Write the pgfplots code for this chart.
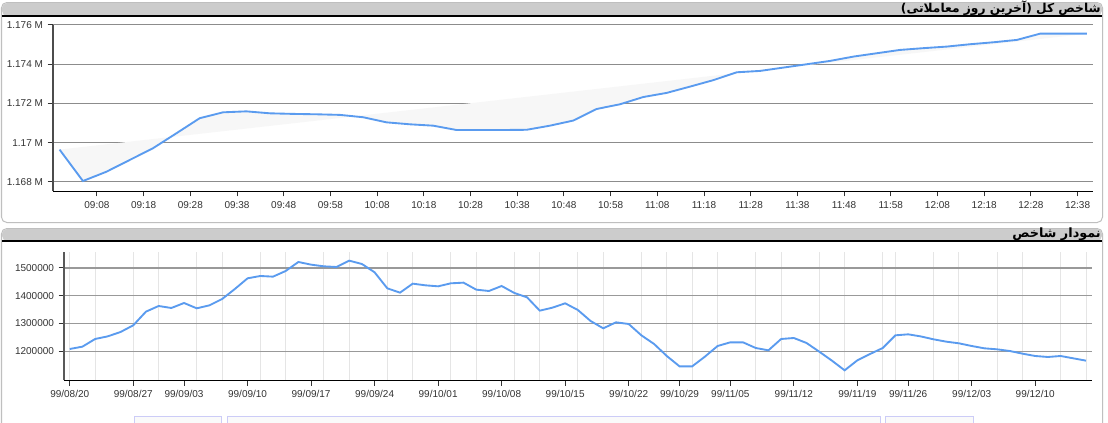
\documentclass[border=0pt]{standalone}
\usepackage{fontspec}
\setmainfont{Liberation Sans}
\newfontfamily\arabicfont[Script=Arabic]{DejaVu Sans}
\TeXXeTstate=1
\usepackage{pgfplots}
\usepackage{pgfplotstable}
\pgfplotsset{compat=1.18}
\definecolor{linecol}{HTML}{5A9BEF}

% intraday index, minutes after 09:00
\pgfplotstableread{
t v
0 1169650
5 1168050
10 1168520
15 1169120
20 1169720
25 1170480
30 1171250
35 1171550
40 1171600
45 1171500
50 1171470
55 1171450
60 1171420
65 1171300
70 1171040
75 1170940
80 1170870
85 1170650
90 1170650
95 1170650
100 1170660
105 1170870
110 1171130
115 1171720
120 1171960
125 1172330
130 1172540
135 1172860
140 1173190
145 1173590
150 1173660
155 1173830
160 1174000
165 1174170
170 1174390
175 1174560
180 1174730
185 1174820
190 1174900
195 1175020
200 1175120
205 1175240
210 1175560
215 1175560
220 1175560
}\intraday

% daily index, trading day number
\pgfplotstableread{
i v
0 1208400
1 1216800
2 1244400
3 1254000
4 1269600
5 1293600
6 1342800
7 1363200
8 1356000
9 1374000
10 1354800
11 1365600
12 1388400
13 1424400
14 1462800
15 1471200
16 1468800
17 1489200
18 1521600
19 1512000
20 1506000
21 1503600
22 1526400
23 1514400
24 1484400
25 1426800
26 1411200
27 1443600
28 1437600
29 1434000
30 1444800
31 1447200
32 1422000
33 1417200
34 1435200
35 1410000
36 1394400
37 1346400
38 1357200
39 1372800
40 1348800
41 1309200
42 1282800
43 1304400
44 1298400
45 1257600
46 1226400
47 1183200
48 1146000
49 1146000
50 1180800
51 1219200
52 1232400
53 1232400
54 1212000
55 1203600
56 1244400
57 1248000
58 1230000
59 1198800
60 1166400
61 1131600
62 1167600
63 1190400
64 1212000
65 1257600
66 1261200
67 1253600
68 1243200
69 1234800
70 1228800
71 1219200
72 1210800
73 1207200
74 1201200
75 1191600
76 1183200
77 1179600
78 1183200
79 1174800
80 1166400
}\daily

\begin{document}
\begin{tikzpicture}
\begin{scope}[x=0.75pt,y=-0.75pt]
\fill[white] (0,0) rectangle (1108,422);
\path[use as bounding box] (0,0) rectangle (1108,422);
% top panel
\draw[black!25, line width=0.75pt, rounded corners=4pt] (1.5,2.5) rectangle (1102.5,222.5);
\fill[black!20, rounded corners=4pt] (2,3) -- (2,16) -- (1102,16) -- (1102,3) -- cycle;
\draw[black, line width=0.9pt] (2,16) -- (1102,16);
\node[anchor=base east, inner sep=0pt] at (1101,12.5) {\fontsize{9.2}{11}\arabicfont\bfseries\beginR شاخص کل (آخرین روز معاملاتی)\endR};
% bottom panel
\draw[black!25, line width=0.75pt, rounded corners=4pt] (1.5,440) -- (1.5,228.5) -- (1102.5,228.5) -- (1102.5,440);
\fill[black!20, rounded corners=4pt] (2,229) -- (2,241) -- (1102,241) -- (1102,229) -- cycle;
\draw[black, line width=0.9pt] (2,241) -- (1102,241);
\node[anchor=base east, inner sep=0pt] at (1101,237.5) {\fontsize{9.6}{11}\arabicfont\bfseries\beginR نمودار شاخص\endR};
% scroller pieces at the bottom edge
\draw[black!15!blue!20, fill=black!2] (134,416.5) rectangle (221,426);
\draw[black!15!blue!20, fill=black!2] (227,416.5) rectangle (880,426);
\draw[black!15!blue!20, fill=black!2] (885,416.5) rectangle (973,426);
\end{scope}

\begin{axis}[
  at={(53*0.75pt,-191*0.75pt)}, anchor=south west,
  scale only axis, width=780pt, height=124.5pt,
  xmin=-1.41, xmax=221.3, ymin=1167541, ymax=1176000,
  axis x line*=bottom, axis y line*=left,
  x axis line style={-, black, line width=0.75pt},
  y axis line style={-, black!70, line width=1.1pt},
  xtick={8,18,...,218},
  xticklabels={09:08,09:18,09:28,09:38,09:48,09:58,10:08,10:18,10:28,10:38,10:48,10:58,11:08,11:18,11:28,11:38,11:48,11:58,12:08,12:18,12:28,12:38},
  ytick={1168000,1170000,1172000,1174000,1176000},
  yticklabels={1.168 M,1.17 M,1.172 M,1.174 M,1.176 M},
  scaled y ticks=false,
  ymajorgrids, major grid style={black!45, line width=0.75pt},
  tick align=outside, major tick length=4pt,
  tick style={black!80, line width=0.75pt},
  ticklabel style={font=\fontsize{7.5}{9}\selectfont, text=black!80},
]
\addplot[fill=black!3, draw=none, forget plot] table[x=t, y=v] {\intraday} -- cycle;
\addplot[linecol, line width=1.4pt] table[x=t, y=v] {\intraday};
\end{axis}

\begin{axis}[
  at={(64*0.75pt,-380.3*0.75pt)}, anchor=south west,
  scale only axis, width=770.8pt, height=96.45pt,
  xmin=-0.45, xmax=80.45, ymin=1095680, ymax=1558630,
  axis x line*=bottom, axis y line*=left,
  x axis line style={-, black, line width=0.75pt},
  y axis line style={-, black!65, line width=1.5pt},
  xtick={0,5,9,14,19,24,29,34,39,44,48,52,57,62,66,71,76},
  xticklabels={99/08/20,99/08/27,99/09/03,99/09/10,99/09/17,99/09/24,99/10/01,99/10/08,99/10/15,99/10/22,99/10/29,99/11/05,99/11/12,99/11/19,99/11/26,99/12/03,99/12/10},
  minor xtick={0,2,5,7,10,12,15,17,20,22,25,27,30,32,35,37,40,42,45,47,49,51,54,56,59,61,64,65,68,70,73,75,78,80},
  xminorgrids, minor grid style={black!10, line width=0.75pt},
  minor tick length=0pt,
  ytick={1200000,1300000,1400000,1500000},
  yticklabels={1200000,1300000,1400000,1500000},
  scaled y ticks=false,
  ymajorgrids, major grid style={black!40, line width=0.9pt},
  tick align=outside, major tick length=4pt,
  tick style={black!80, line width=0.75pt},
  ticklabel style={font=\fontsize{7.5}{9}\selectfont, text=black!80},
]
\addplot[linecol, line width=1.4pt] table[x=i, y=v] {\daily};
\end{axis}
\end{tikzpicture}
\end{document}
